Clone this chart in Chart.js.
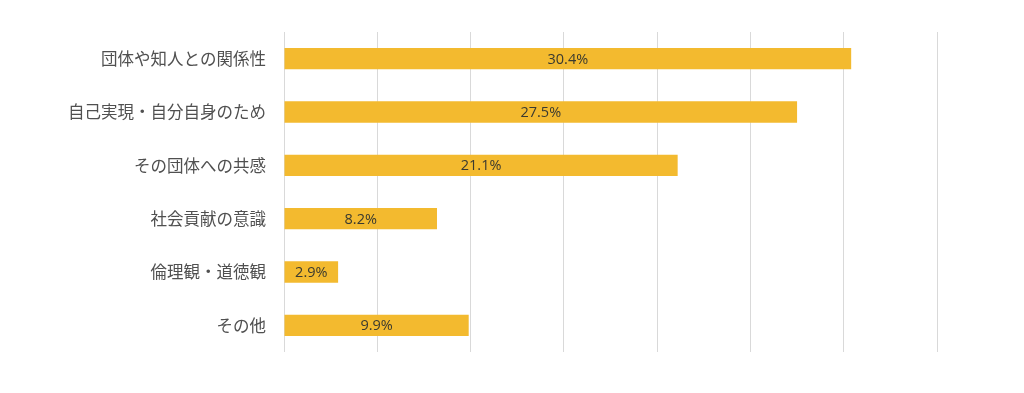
<!DOCTYPE html>
<html>
<head>
<meta charset="utf-8">
<script src="https://cdn.jsdelivr.net/npm/chart.js@4/dist/chart.umd.min.js"></script>
<style>
  html, body { margin: 0; padding: 0; background: #fff; }
  #wrap { width: 1024px; height: 393px; position: relative; }
</style>
</head>
<body>
<div id="wrap"><canvas id="chart" width="1024" height="393"></canvas></div>
<script>
const categories = [
    '団体や知人との関係性',
    '自己実現・自分自身のため',
    'その団体への共感',
    '社会貢献の意識',
    '倫理観・道徳観',
    'その他',
];
const shares = [30.4, 27.5, 21.1, 8.2, 2.9, 9.9];
const axisMax = 35;
const axisStep = 5;

// value labels centred inside each bar (no datalabels plugin available)
const barLabels = {
    id: 'barLabels',
    afterDatasetsDraw(chart) {
        const { ctx } = chart;
        const meta = chart.getDatasetMeta(0);
        ctx.save();
        ctx.font = '14.5px "Open Sans", sans-serif';
        ctx.fillStyle = '#3a3a30';
        ctx.textAlign = 'center';
        ctx.textBaseline = 'middle';
        meta.data.forEach((bar, i) => {
            const cx = (bar.x + bar.base) / 2;
            ctx.fillText(shares[i].toFixed(1) + '%', cx, bar.y + 1);
        });
        ctx.restore();
    },
};

new Chart(document.getElementById('chart'), {
    type: 'bar',
    data: {
        labels: categories,
        datasets: [
            {
                data: shares,
                backgroundColor: '#F3BA2F',
                borderWidth: 0,
                barPercentage: 0.4,
                categoryPercentage: 1,
            },
        ],
    },
    options: {
        indexAxis: 'y',
        responsive: false,
        animation: false,
        layout: { padding: { top: 32, bottom: 41, right: 87, left: 0 } },
        plugins: {
            legend: { display: false },
            tooltip: { enabled: false },
        },
        scales: {
            x: {
                min: 0,
                max: axisMax,
                ticks: { display: false, stepSize: axisStep },
                grid: { color: '#d9d9d9', lineWidth: 1, drawTicks: false },
                border: { display: false },
            },
            y: {
                afterFit: (scale) => { scale.width = 284; },
                ticks: {
                    color: '#505050',
                    padding: 18,
                    font: { size: 16.5, family: '"Noto Sans CJK JP", sans-serif' },
                },
                grid: { display: false, drawTicks: false },
                border: { display: false },
            },
        },
    },
    plugins: [barLabels],
});
</script>
</body>
</html>
